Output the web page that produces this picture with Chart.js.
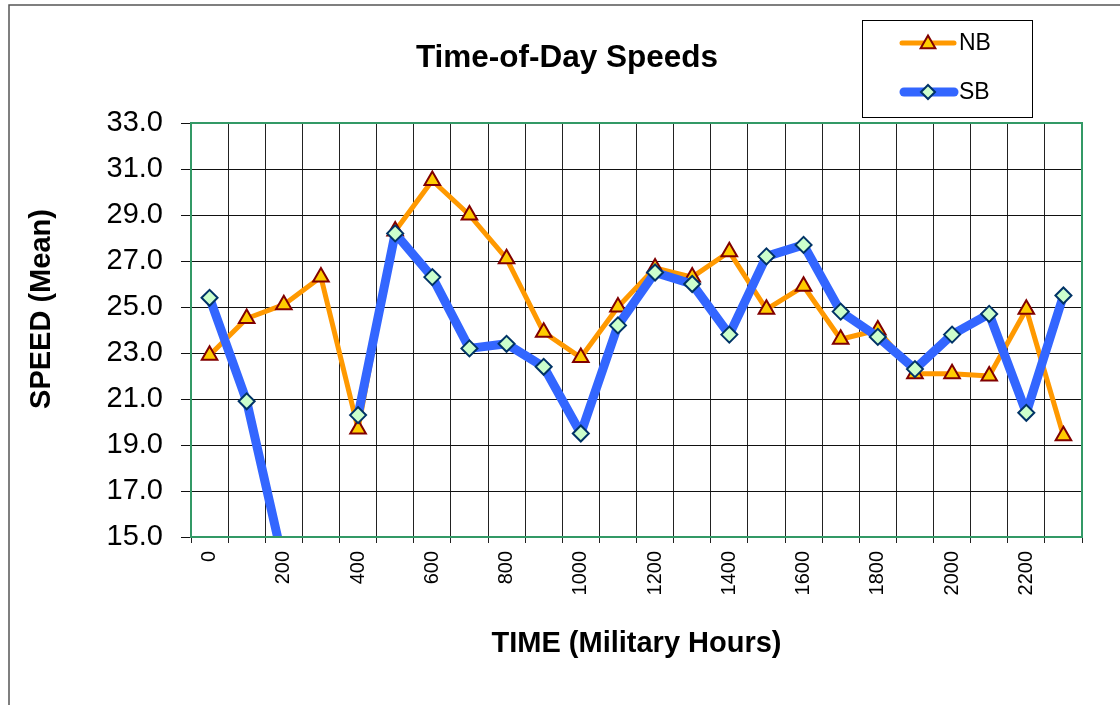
<!DOCTYPE html>
<html>
<head>
<meta charset="utf-8">
<script src="https://cdn.jsdelivr.net/npm/chart.js@4/dist/chart.umd.min.js"></script>
<style>
  html, body { margin: 0; padding: 0; background: #fff; }
  #wrap { width: 1120px; height: 705px; }
</style>
</head>
<body>
<div id="wrap"><canvas id="chart" width="1120" height="705"></canvas></div>
<script>
const hours = ['0','100','200','300','400','500','600','700','800','900','1000','1100',
               '1200','1300','1400','1500','1600','1700','1800','1900','2000','2100','2200','2300'];
const nbSpeed = [22.9, 24.5, 25.1, 26.3, 19.7, 28.3, 30.5, 29.0, 27.1, 23.9, 22.8, 25.0,
                 26.7, 26.3, 27.4, 24.9, 25.9, 23.6, 24.0, 22.1, 22.1, 22.0, 24.9, 19.4];
const sbSpeed = [25.4, 20.9, 13.8, null, 20.3, 28.2, 26.3, 23.2, 23.4, 22.4, 19.5, 24.2,
                 26.5, 26.0, 23.8, 27.2, 27.7, 24.8, 23.7, 22.3, 23.8, 24.7, 20.4, 25.5];
const speedTicks = [15, 17, 19, 21, 23, 25, 27, 29, 31, 33];

const FONT = '"Liberation Sans", Arial, sans-serif';
const NB_LINE = '#FF9900', NB_FILL = '#FFCC00', NB_EDGE = '#800000';
const SB_LINE = '#3366FF', SB_FILL = '#CCFFCC', SB_EDGE = '#003366';

function triangle(ctx, x, y, r) {
  ctx.beginPath();
  ctx.moveTo(x, y - r);
  ctx.lineTo(x + 0.866 * r, y + 0.5 * r);
  ctx.lineTo(x - 0.866 * r, y + 0.5 * r);
  ctx.closePath();
}
function diamond(ctx, x, y, r) {
  ctx.beginPath();
  ctx.moveTo(x, y - r);
  ctx.lineTo(x + r, y);
  ctx.lineTo(x, y + r);
  ctx.lineTo(x - r, y);
  ctx.closePath();
}

// frame, title, y title and legend box
const decor = {
  id: 'decor',
  afterDraw(chart) {
    const ctx = chart.ctx;
    const a = chart.chartArea;
    ctx.save();
    // outer chart border (top + left)
    ctx.strokeStyle = '#555';
    ctx.lineWidth = 1.5;
    ctx.beginPath();
    ctx.moveTo(9, 705);
    ctx.lineTo(9, 5);
    ctx.lineTo(1120, 5);
    ctx.stroke();

    // plot area frame
    ctx.strokeStyle = '#339966';
    ctx.lineWidth = 2;
    ctx.strokeRect(a.left, a.top, a.right - a.left, a.bottom - a.top);

    // title
    ctx.fillStyle = '#000';
    ctx.font = 'bold 31.5px ' + FONT;
    ctx.textAlign = 'center';
    ctx.textBaseline = 'alphabetic';
    ctx.fillText('Time-of-Day Speeds', 567, 67);

    // y axis title
    ctx.save();
    ctx.translate(42, 309);
    ctx.rotate(-Math.PI / 2);
    ctx.font = 'bold 29px ' + FONT;
    ctx.textBaseline = 'middle';
    ctx.fillText('SPEED (Mean)', 0, 0);
    ctx.restore();

    // legend
    ctx.fillStyle = '#fff';
    ctx.fillRect(862, 20, 170, 97);
    ctx.strokeStyle = '#000';
    ctx.lineWidth = 1;
    ctx.strokeRect(862.5, 20.5, 170, 97);
    ctx.lineCap = 'round';
    ctx.strokeStyle = NB_LINE;
    ctx.lineWidth = 5;
    ctx.beginPath(); ctx.moveTo(902, 43); ctx.lineTo(954, 43); ctx.stroke();
    triangle(ctx, 928, 44, 8.5);
    ctx.fillStyle = NB_FILL; ctx.fill();
    ctx.strokeStyle = NB_EDGE; ctx.lineWidth = 2; ctx.stroke();
    ctx.strokeStyle = SB_LINE;
    ctx.lineWidth = 9;
    ctx.beginPath(); ctx.moveTo(904, 92); ctx.lineTo(954, 92); ctx.stroke();
    diamond(ctx, 928, 92, 7);
    ctx.fillStyle = SB_FILL; ctx.fill();
    ctx.strokeStyle = SB_EDGE; ctx.lineWidth = 2; ctx.stroke();
    ctx.fillStyle = '#000';
    ctx.font = '23px ' + FONT;
    ctx.textAlign = 'left';
    ctx.textBaseline = 'middle';
    ctx.fillText('NB', 959, 44);
    ctx.fillText('SB', 959, 93);
    ctx.restore();
  }
};

new Chart(document.getElementById('chart').getContext('2d'), {
  type: 'line',
  data: {
    labels: hours,
    datasets: [
      {
        label: 'NB', data: nbSpeed, order: 1,
        borderColor: NB_LINE, borderWidth: 5, tension: 0,
        borderJoinStyle: 'round', borderCapStyle: 'round',
        pointStyle: 'triangle', pointRadius: 9, pointBorderWidth: 2,
        pointBackgroundColor: NB_FILL, pointBorderColor: NB_EDGE,
        clip: 0
      },
      {
        label: 'SB', data: sbSpeed, order: 0,
        borderColor: SB_LINE, borderWidth: 9, tension: 0,
        borderJoinStyle: 'round', borderCapStyle: 'butt',
        pointStyle: 'rectRot', pointRadius: 8, pointBorderWidth: 2,
        pointBackgroundColor: SB_FILL, pointBorderColor: SB_EDGE,
        spanGaps: false, clip: 0
      }
    ]
  },
  options: {
    responsive: false,
    animation: false,
    events: [],
    layout: { padding: { top: 123, right: 38, left: 0, bottom: 0 } },
    plugins: {
      legend: { display: false },
      title: { display: false },
      tooltip: { enabled: false }
    },
    scales: {
      x: {
        type: 'category',
        offset: true,
        grid: { offset: true, color: '#222', lineWidth: 1, tickLength: 6, drawOnChartArea: true },
        border: { display: false },
        ticks: {
          autoSkip: false, minRotation: 90, maxRotation: 90, padding: 8,
          color: '#000', font: { family: FONT, size: 20 },
          callback: (v, i) => (i % 2 === 0 ? hours[i] : '')
        },
        title: {
          display: true, text: 'TIME (Military Hours)', color: '#000',
          font: { family: FONT, size: 29, weight: 'bold' },
          padding: { top: 0, bottom: 44 }
        },
        afterFit: (s) => { s.height = 168; }
      },
      y: {
        min: 15, max: 33,
        afterBuildTicks: (s) => { s.ticks = speedTicks.map(v => ({ value: v })); },
        grid: { color: '#111', lineWidth: 1, tickLength: 10 },
        border: { display: false },
        ticks: {
          padding: 18, color: '#000',
          font: { family: FONT, size: 29 },
          callback: (v) => Number(v).toFixed(1)
        },
        afterFit: (s) => { s.width = 191; }
      }
    }
  },
  plugins: [decor]
});
</script>
</body>
</html>
